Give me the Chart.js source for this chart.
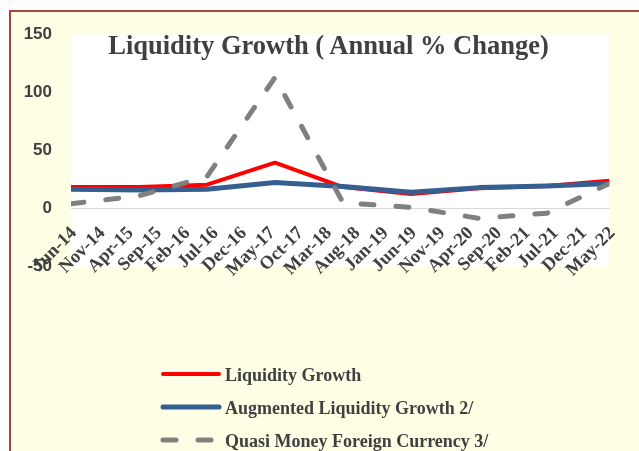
<!DOCTYPE html>
<html><head><meta charset="utf-8">
<script src="https://cdn.jsdelivr.net/npm/chart.js@4.4.1/dist/chart.umd.min.js"></script>
<style>
html,body{margin:0;padding:0;width:639px;height:451px;overflow:hidden;background:#ffffff;}
#frame{position:absolute;left:9px;top:10px;width:660px;height:470px;border-left:2px solid #A8463F;border-top:2px solid #A8463F;background:#FFFFE6;}
#c{position:absolute;left:0;top:0;}
#title{position:absolute;left:0;top:32px;width:657px;text-align:center;font:bold 26.5px "Liberation Serif","Times New Roman",serif;line-height:26px;color:#404040;white-space:nowrap;}
.leg{position:absolute;left:0;height:20px;width:639px;font:bold 18px "Liberation Serif","Times New Roman",serif;line-height:18px;color:#404040;white-space:nowrap;}
.leg svg{position:absolute;left:155px;}
.leg span{position:absolute;left:225px;top:0;}
</style>
</head><body>
<div id="frame"></div>
<canvas id="c" width="639" height="451"></canvas>
<div id="title">Liquidity Growth ( Annual % Change)</div>
<div id="legend"></div>
<script>
// ---- data ----
const categories = ['Jun-14','Jun-15','Jun-16','Jun-17','Jun-18','Jun-19','Jun-20','Jun-21','May-22'];
const tickLabels = ['Jun-14','Nov-14','Apr-15','Sep-15','Feb-16','Jul-16','Dec-16','May-17','Oct-17','Mar-18',
                    'Aug-18','Jan-19','Jun-19','Nov-19','Apr-20','Sep-20','Feb-21','Jul-21','Dec-21','May-22'];
const liquidityGrowth          = [18.5, 18.5, 20.5, 39.5, 18.5, 12.5, 17.5, 19.5, 24];
const augmentedLiquidityGrowth = [16.5, 16, 16.5, 22.5, 19, 14, 18, 19.5, 21.5];
const quasiMoneyForeignCurrency = [4, 11, 27.5, 113, 5, 1, -8.5, -4, 21.5];
const seriesNames = ['Liquidity Growth','Augmented Liquidity Growth 2/','Quasi Money Foreign Currency 3/'];
const yTicks = [-50, 0, 50, 100, 150];

// ---- helpers ----
const MONTHS = ['Jan','Feb','Mar','Apr','May','Jun','Jul','Aug','Sep','Oct','Nov','Dec'];
function monthIndex(label){ const p = label.split('-'); return (2000 + Number(p[1]))*12 + MONTHS.indexOf(p[0]); }
const origin = monthIndex(tickLabels[0]);
const xOf = l => monthIndex(l) - origin;
const toPoints = vals => vals.map((v,i) => ({x: xOf(categories[i]), y: v}));
const labelAt = {};
tickLabels.forEach(l => { labelAt[xOf(l)] = l; });

const TXT = '#404040';
const chartBg = {
  id: 'chartBg',
  beforeDraw(chart){
    const a = chart.chartArea, ctx = chart.ctx;
    ctx.save(); ctx.fillStyle = '#ffffff';
    ctx.fillRect(a.left, a.top, a.right - a.left, a.bottom - a.top);
    ctx.restore();
  }
};

const chart = new Chart(document.getElementById('c'), {
  type: 'line',
  data: {
    datasets: [
      { label: seriesNames[0], data: toPoints(liquidityGrowth), borderColor: '#FF0000', borderWidth: 4,
        pointRadius: 0, tension: 0, order: 2, borderCapStyle: 'round', borderJoinStyle: 'round' },
      { label: seriesNames[1], data: toPoints(augmentedLiquidityGrowth), borderColor: '#365F91', borderWidth: 5,
        pointRadius: 0, tension: 0, order: 1, borderCapStyle: 'round', borderJoinStyle: 'round' },
      { label: seriesNames[2], data: toPoints(quasiMoneyForeignCurrency), borderColor: '#808080', borderWidth: 5,
        borderDash: [13, 22], pointRadius: 0, tension: 0, order: 0, borderCapStyle: 'round', borderJoinStyle: 'round' }
    ]
  },
  options: {
    responsive: false, devicePixelRatio: 1, animation: false,
    layout: { padding: { left: 0, top: 34.5, right: 19, bottom: 184.5 } },
    plugins: { legend: { display: false }, tooltip: { enabled: false }, title: { display: false } },
    scales: {
      x: {
        type: 'linear', position: { y: 0 },
        min: 0, max: xOf(tickLabels[tickLabels.length - 1]),
        afterBuildTicks: s => { s.ticks = tickLabels.map(l => ({ value: xOf(l) })); },
        grid: { display: false, drawTicks: false },
        border: { display: true, color: '#D9D9D9', width: 1 },
        ticks: { autoSkip: false, maxRotation: 45, minRotation: 45, padding: 14, labelOffset: 3,
          color: TXT, font: { family: '"Liberation Serif"', weight: 'bold', size: 18.5 },
          callback: v => labelAt[v] }
      },
      y: {
        type: 'linear', min: yTicks[0], max: yTicks[yTicks.length - 1],
        afterBuildTicks: s => { s.ticks = yTicks.map(v => ({ value: v })); },
        afterFit: s => { s.width = 71; },
        grid: { display: false, drawTicks: false },
        border: { display: false },
        ticks: { padding: 19, color: TXT, font: { family: '"Liberation Sans"', weight: 'bold', size: 17 } }
      }
    }
  },
  plugins: [chartBg]
});

// ---- legend (HTML, built from datasets) ----
const legendTops = [366, 399, 431.5];
const legend = document.getElementById('legend');
chart.data.datasets.forEach((ds, i) => {
  const row = document.createElement('div');
  row.className = 'leg';
  row.style.top = legendTops[i] + 'px';
  const dash = ds.borderDash ? ` stroke-dasharray="${ds.borderDash.join(' ')}"` : '';
  row.innerHTML = `<svg width="70" height="20" style="top:-2px"><line x1="8" y1="10" x2="64" y2="10" stroke="${ds.borderColor}" stroke-width="${ds.borderWidth}" stroke-linecap="round"${dash}/></svg><span>${ds.label}</span>`;
  legend.appendChild(row);
});
</script>
</body></html>
